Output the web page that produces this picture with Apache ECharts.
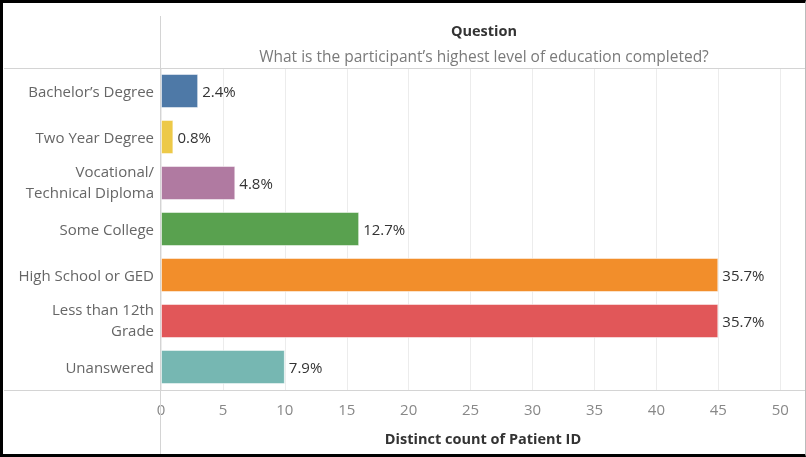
<!DOCTYPE html>
<html>
<head>
<meta charset="utf-8">
<script src="https://cdn.jsdelivr.net/npm/echarts@6/dist/echarts.min.js"></script>
<style>
html,body{margin:0;padding:0;background:#fff;}
#wrap{position:absolute;left:0;top:0;width:806px;height:457px;box-sizing:border-box;border-top:3px solid #000;border-left:3px solid #000;border-bottom:3px solid #000;border-right:1px solid #bbb;}
#chart{position:absolute;left:0;top:0;width:806px;height:457px;}
</style>
</head>
<body>
<div id="chart"></div>
<div id="wrap"></div>
<script>
const categories = ["Bachelor\u2019s Degree","Two Year Degree","Vocational/\nTechnical Diploma","Some College","High School or GED","Less than 12th\nGrade","Unanswered"];
const counts = [3,1,6,16,45,45,10];
const colors = ["#4e79a7","#edc948","#b07aa1","#59a14f","#f28e2b","#e15759","#76b7b2"];
const tickValues = [0,5,10,15,20,25,30,35,40,45,50];
const headerTitle = "Question";
const headerSub = "What is the participant\u2019s highest level of education completed?";
const axisTitle = "Distinct count of Patient ID";

const total = counts.reduce((a,b)=>a+b,0);
const FONT = "'Open Sans', sans-serif";
const chart = echarts.init(document.getElementById('chart'), null, {renderer:'canvas'});
chart.setOption({
  animation:false,
  textStyle:{fontFamily:FONT},
  title:[
    {text:headerTitle, left:479, top:19, textAlign:'center',
     textStyle:{fontSize:14.5, fontWeight:'bold', color:'#333', fontFamily:FONT}},
    {text:headerSub, left:479, top:45, textAlign:'center',
     textStyle:{fontSize:15.5, fontWeight:'normal', color:'#7a7a7a', fontFamily:FONT}}
  ],
  grid:{left:161, right:1, top:68, height:322, containLabel:false},
  xAxis:{
    type:'value', min:0, max:52, interval:5,
    axisLine:{show:false}, axisTick:{show:false},
    splitLine:{show:true, lineStyle:{color:'#ececec', width:1}},
    axisLabel:{color:'#888', fontSize:15, fontFamily:FONT, margin:13, showMaxLabel:false,
      formatter:v=> tickValues.indexOf(v)>=0 ? String(v) : ''},
    name:axisTitle, nameLocation:'middle', nameGap:42,
    nameTextStyle:{color:'#333', fontSize:14.5, fontWeight:'bold', fontFamily:FONT}
  },
  yAxis:{
    type:'category', data:categories, inverse:true,
    axisLine:{show:false}, axisTick:{show:false}, splitLine:{show:false},
    axisLabel:{color:'#666', fontSize:15, fontFamily:FONT, margin:7, align:'right',
      formatter:v=>{
        const parts=v.split('\n');
        return parts.length===1 ? '{a|'+v+'}' : parts.map(s=>'{b|'+s+'}').join('\n');
      },
      rich:{
        a:{color:'#666', fontSize:15, fontFamily:FONT, lineHeight:22, padding:[4,0,0,0], align:'right'},
        b:{color:'#666', fontSize:15, fontFamily:FONT, lineHeight:21, padding:[1,0,0,0], align:'right'}
      }
    }
  },
  series:[{
    type:'bar', barCategoryGap:'26%',
    data:counts.map((v,i)=>({value:v, itemStyle:{color:colors[i], borderColor:'rgba(255,255,255,0.5)', borderWidth:1}})),
    label:{show:true, position:'right', distance:4, offset:[0,2], color:'#333', fontSize:15, fontFamily:FONT,
      formatter:p=> (p.value/total*100).toFixed(1)+'%'}
  }],
  graphic:[
    {type:'line', shape:{x1:160.5,y1:16,x2:160.5,y2:457}, style:{stroke:'#d4d4d4', lineWidth:1}, z:10},
    {type:'line', shape:{x1:4,y1:68.5,x2:806,y2:68.5}, style:{stroke:'#d4d4d4', lineWidth:1}, z:10},
    {type:'line', shape:{x1:4,y1:390.5,x2:806,y2:390.5}, style:{stroke:'#d4d4d4', lineWidth:1}, z:10}
  ]
});
</script>
</body>
</html>
